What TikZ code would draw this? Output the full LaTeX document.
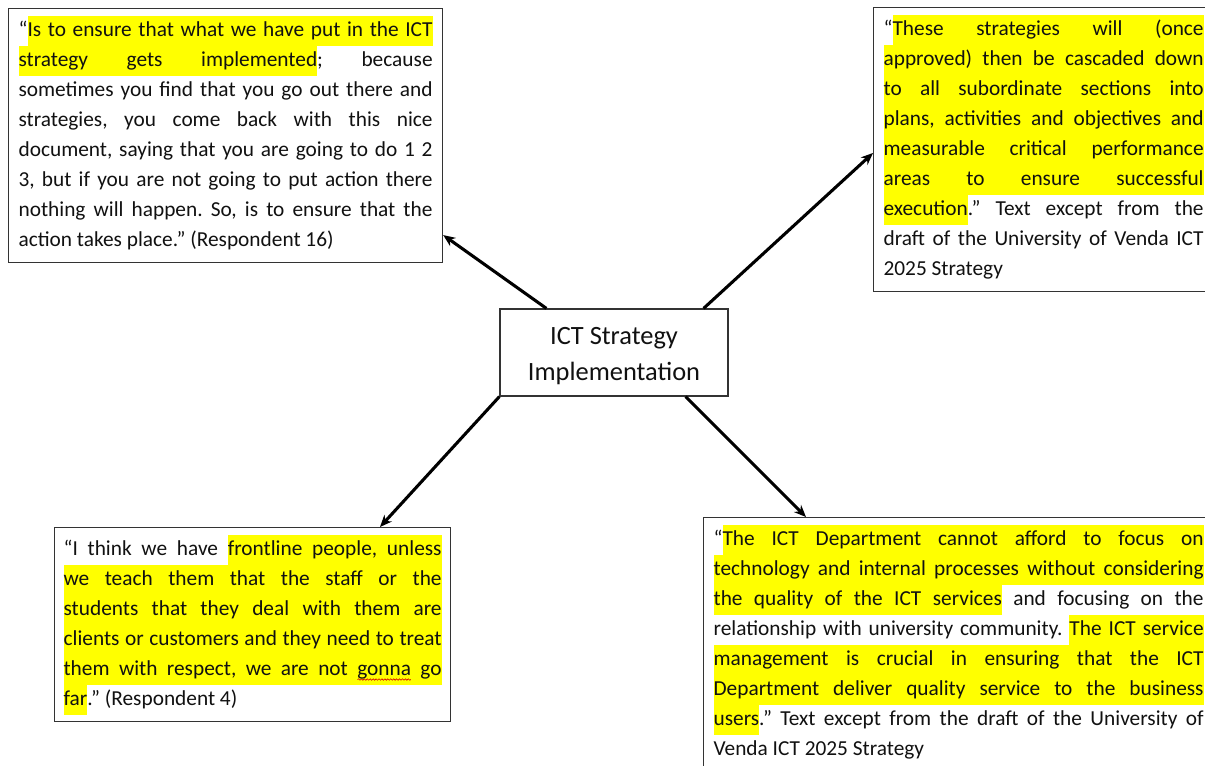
\documentclass[tikz,border=0pt]{standalone}
\usepackage{fontspec}
\setmainfont{Carlito}
\usepackage{xcolor}
\usetikzlibrary{arrows.meta,calc,decorations.pathmorphing}

\definecolor{hlyellow}{HTML}{FFFF00}
\definecolor{ink}{HTML}{111111}
\definecolor{frame}{HTML}{333333}

% quotation text: justified, no hyphenation, uniform spaces
\newcommand\qfont{\fontsize{16pt}{22.5pt}\selectfont\frenchspacing
  \tolerance=10000 \hbadness=10000 \hyphenpenalty=10000 }

% highlighting: each word on a full-line-height yellow band,
% spaces between highlighted words as yellow leaders
\newsavebox\hlwordbox
\newlength\wavlen
\newcommand\hlword[1]{\leavevmode\sbox\hlwordbox{#1}%
  \rlap{\color{hlyellow}\vrule height\ht\strutbox depth\dp\strutbox width\wd\hlwordbox}%
  \usebox\hlwordbox}
\newcommand\hlsp{{\color{hlyellow}\leaders\vrule height\ht\strutbox depth\dp\strutbox
  \hskip\fontdimen2\font plus\fontdimen3\font minus\fontdimen4\font}}
\def\HL#1{\HLloop#1 \HLend}
\def\HLloop#1 #2\HLend{\hlword{#1}\ifx\relax#2\relax\else\hlsp\HLloop#2\HLend\fi}
% highlighted word with a red wavy underline
\newcommand\wavy[1]{\leavevmode\settowidth\wavlen{#1}%
  \rlap{\color{hlyellow}\vrule height\ht\strutbox depth\dp\strutbox width\wavlen}%
  \rlap{\tikz[baseline=0pt]\draw[red!85!black,line width=0.45pt,decorate,
     decoration={snake,amplitude=0.55pt,segment length=2.2pt}] (0pt,-3pt) -- (\wavlen,-3pt);}%
  #1}

\begin{document}
\begin{tikzpicture}[x=0.75pt,y=-0.75pt,
  quotebox/.style={draw=frame, line width=0.9pt, fill=white, anchor=north west,
    inner xsep=7.5pt, inner ysep=5.2pt, align=justify, text=ink, font=\qfont},
  hub/.style={draw=frame, line width=0.9pt, fill=white, align=center, text=ink,
    minimum width=171pt, minimum height=65.25pt, inner sep=0pt,
    font=\fontsize{19.8pt}{27pt}\selectfont},
  link/.style={line width=2.3pt, draw=black, -{Stealth[length=9pt,width=7.5pt]}}]

\fill[white] (0,0) rectangle (1205,766);
\useasboundingbox (0,0) rectangle (1205,766);
\clip (0,0) rectangle (1205,766);

\node[hub] (c) at (614,352.5) {\rule{0pt}{23.5pt}ICT Strategy\\Implementation\strut};

\node[quotebox, text width=310.5pt] (tl) at (8,8) {\strut“\HL{Is to ensure that what we have put in the ICT}\linebreak
\HL{strategy gets implemented}; because\linebreak
sometimes you find that you go out there and\linebreak
strategies, you come back with this nice\linebreak
document, saying that you are going to do 1 2\linebreak
3, but if you are not going to put action there\linebreak
nothing will happen. So, is to ensure that the\linebreak
action takes place.” (Respondent 16)\strut};

\node[quotebox, text width=240pt] (tr) at (873,7) {\strut“\HL{These strategies will (once}\linebreak
\HL{approved) then be cascaded down}\linebreak
\HL{to all subordinate sections into}\linebreak
\HL{plans, activities and objectives and}\linebreak
\HL{measurable critical performance}\linebreak
\HL{areas to ensure successful}\linebreak
\HL{execution}.” Text except from the\linebreak
draft of the University of Venda ICT\linebreak
2025 Strategy\strut};

\node[quotebox, inner xsep=6.75pt, text width=283.5pt] (bl) at (54,527) {\strut“I think we have \HL{frontline people, unless}\linebreak
\HL{we teach them that the staff or the}\linebreak
\HL{students that they deal with them are}\linebreak
\HL{clients or customers and they need to treat}\linebreak
\HL{them with respect, we are not}\hlsp\wavy{gonna}\hlsp\HL{go}\linebreak
\HL{far}.” (Respondent 4)\strut};

\node[quotebox, text width=367.5pt] (br) at (703,517) {\strut“\HL{The ICT Department cannot afford to focus on}\linebreak
\HL{technology and internal processes without considering}\linebreak
\HL{the quality of the ICT services} and focusing on the\linebreak
relationship with university community. \HL{The ICT service}\linebreak
\HL{management is crucial in ensuring that the ICT}\linebreak
\HL{Department deliver quality service to the business}\linebreak
\HL{users}.” Text except from the draft of the University of\linebreak
Venda ICT 2025 Strategy\strut};

\draw[link] ($(c.north west)+(47,0)$) -- ($(tl.south east)+(0,-28)$);
\draw[link] ($(c.north east)+(-25,0)$) -- ($(tr.north west)+(0,146)$);
\draw[link] (c.south west) -- ($(bl.north west)+(326,0)$);
\draw[link] ($(c.south east)+(-43,0)$) -- ($(br.north west)+(103,0)$);
\end{tikzpicture}
\end{document}
